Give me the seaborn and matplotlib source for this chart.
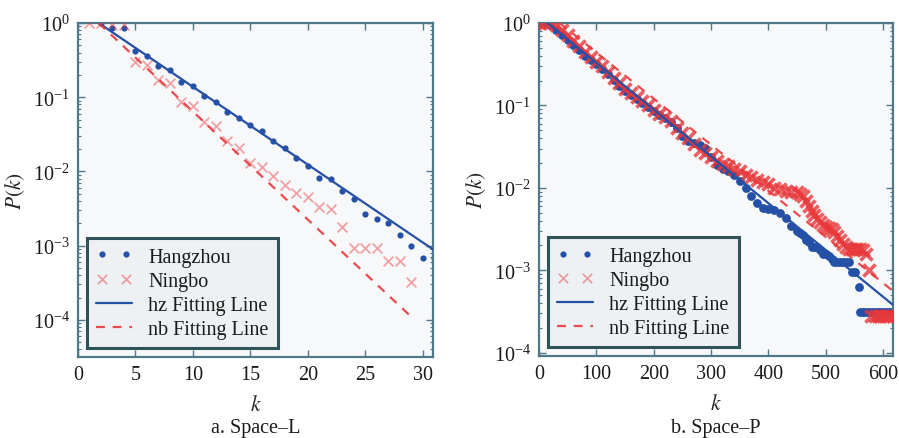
import numpy as np
import pandas as pd
import matplotlib
matplotlib.use("Agg")
import matplotlib.pyplot as plt
from matplotlib.ticker import NullLocator, LogLocator
import seaborn as sns

# ---------------- Panel a: Space-L ----------------
hz_L_k = list(range(2, 32))
hz_L_p = [1.0, 0.86, 0.86, 0.42, 0.36, 0.26, 0.23, 0.16, 0.14, 0.104,
          0.086, 0.063, 0.052, 0.042, 0.035, 0.026, 0.021, 0.015, 0.012, 0.0081,
          0.0079, 0.0055, 0.0043, 0.0027, 0.0023, 0.0020, 0.00138, 0.0010, 0.00068, 0.00068]
nb_L_k = list(range(1, 30))
nb_L_p = [1.0, 1.0, 0.93, 0.93, 0.295, 0.27, 0.17, 0.155, 0.087, 0.076,
          0.047, 0.041, 0.026, 0.021, 0.0129, 0.0115, 0.0087, 0.0066, 0.0052, 0.0045,
          0.0033, 0.0031, 0.0018, 0.00093, 0.00093, 0.00093, 0.00062, 0.00062, 0.00032]
hz_fit_L_k = [1.8, 31.0]
hz_fit_L_p = [1.0, 0.00087]
nb_fit_L_k = [1.8, 28.8]
nb_fit_L_p = [1.0, 0.000118]

# ---------------- Panel b: Space-P ----------------
hz_P_k = [0, 10, 20, 30, 40, 50, 60, 70, 80, 90, 100, 110, 120, 130, 140, 150, 160, 170, 180, 190,
          200, 210, 220, 230, 240, 250, 260, 270, 280, 290, 300, 310, 320, 330, 340, 350, 360, 370, 380, 390,
          400, 410, 420, 430, 440, 450, 455, 460, 465, 470, 475, 480, 485, 490, 495, 500, 505, 510,
          515, 520, 525, 530, 535, 540, 545, 550, 557,
          560, 565, 570, 575, 580, 585, 590, 595, 600, 605, 610, 615]
hz_P_p = [1.0, 1.0, 0.933, 0.813, 0.708, 0.617, 0.537, 0.468, 0.398, 0.355, 0.316, 0.275, 0.240, 0.204,
          0.174, 0.151, 0.135, 0.120, 0.107, 0.0955,
          0.0851, 0.0776, 0.0708, 0.0631, 0.0525, 0.0427, 0.0372, 0.0347, 0.0331, 0.0302, 0.0240, 0.0191,
          0.0170, 0.0158, 0.0145, 0.0120, 0.0100, 0.00794, 0.00661, 0.00575,
          0.00550, 0.00537, 0.00490, 0.00427, 0.00347, 0.00302, 0.00282, 0.00269, 0.00234, 0.00219,
          0.00191, 0.00191, 0.00191, 0.00174, 0.00158, 0.00158, 0.00151, 0.00138,
          0.00126, 0.00126, 0.00126, 0.00126, 0.00126, 0.00126, 0.000955, 0.000955, 0.000631,
          0.000309, 0.000309, 0.000309, 0.000309, 0.000309, 0.000309, 0.000309, 0.000309,
          0.000309, 0.000309, 0.000309, 0.000309]
nb_P_k = [0, 10, 20, 30, 40, 50, 60, 70, 80, 90, 100, 110, 120, 130, 140, 150, 160, 170, 180, 190,
          200, 210, 220, 230, 240, 250, 260, 270, 280, 290, 300, 310, 320, 330, 340, 350, 360, 370, 380, 390,
          400, 410, 420, 430, 440, 450, 455, 460, 465, 470, 475, 480, 485, 490, 495, 500, 505, 510,
          515, 520, 525, 530, 535, 540, 545, 550, 555, 560, 565, 570, 575,
          578, 585, 590, 595, 600, 605, 610, 617]
nb_P_p = [1.0, 1.0, 1.0, 0.955, 0.832, 0.708, 0.603, 0.525, 0.447, 0.389, 0.339, 0.302, 0.257, 0.214,
          0.186, 0.158, 0.141, 0.126, 0.112, 0.100,
          0.0891, 0.0794, 0.0724, 0.0646, 0.0537, 0.0457, 0.0398, 0.0339, 0.0288, 0.0263, 0.0240, 0.0214,
          0.0195, 0.0182, 0.0170, 0.0158, 0.0145, 0.0135, 0.0126, 0.0117,
          0.0110, 0.0100, 0.00955, 0.00912, 0.00891, 0.00891, 0.00851, 0.00794, 0.00692, 0.00603,
          0.00525, 0.00468, 0.00417, 0.00380, 0.00355, 0.00339, 0.00324, 0.00316,
          0.00288, 0.00263, 0.00234, 0.00209, 0.00191, 0.00182, 0.00182, 0.00182, 0.00182, 0.00182,
          0.00174, 0.00158, 0.00100,
          0.000282, 0.000282, 0.000282, 0.000282, 0.000282, 0.000282, 0.000282, 0.000282]
hz_fit_P_k = [15, 617]
hz_fit_P_p = [1.0, 0.00038]
nb_fit_P_k = [36, 617]
nb_fit_P_p = [1.0, 0.00056]

labels = ["Hangzhou", "Ningbo", "hz Fitting Line", "nb Fitting Line"]
captions = ["a. Space\u2013L", "b. Space\u2013P"]

BLUE = "#2450a6"
RED = "#e8383b"
SPINE = "#4f7888"
FACE = "#f7f8f9"

sns.set_style("ticks")
plt.rcParams['font.family'] = ['Liberation Serif', 'DejaVu Serif']
plt.rcParams['mathtext.fontset'] = 'stix'
plt.rcParams['text.color'] = '#1a1a1a'
FS = 14.5

fig = plt.figure(figsize=(8.99, 4.39), dpi=100)
axL = fig.add_axes([78 / 899, 1 - 358 / 439, 355 / 899, 334 / 439])
axR = fig.add_axes([539 / 899, 1 - 357 / 439, 354 / 899, 333 / 439])


def draw(ax, hk, hp, nk, nph, hfk, hfp, nfk, nfp, s_dot, s_x, a_x, lw_x, xlim, ylim, xticks):
    ax.set_facecolor(FACE)
    ax.set_yscale('log')
    sns.scatterplot(x=hk, y=hp, ax=ax, marker='o', s=s_dot, color=BLUE, edgecolor=BLUE,
                    linewidth=0, label=labels[0], zorder=2)
    sns.scatterplot(x=nk, y=nph, ax=ax, marker='x', s=s_x, color=RED, alpha=a_x,
                    linewidth=lw_x, label=labels[1], zorder=3)
    sns.lineplot(x=hfk, y=hfp, ax=ax, color=BLUE, linewidth=1.6, label=labels[2], zorder=4)
    sns.lineplot(x=nfk, y=nfp, ax=ax, color=RED, linewidth=1.6, linestyle=(0, (4, 3.5)),
                 label=labels[3], zorder=4, alpha=0.9)
    ax.set_xlim(*xlim)
    ax.set_ylim(*ylim)
    ax.set_xticks(xticks)
    ax.yaxis.set_major_locator(LogLocator(base=10, numticks=10))
    ax.yaxis.set_minor_locator(LogLocator(base=10, subs=np.arange(2, 10), numticks=20))
    ax.xaxis.set_minor_locator(NullLocator())
    ax.tick_params(which='both', direction='in', top=True, right=True, color=SPINE,
                   labelsize=FS, labelcolor='#1a1a1a')
    ax.tick_params(which='major', length=5, width=1.0, pad=6)
    ax.tick_params(which='minor', length=2.5, width=0.8)
    for sp in ax.spines.values():
        sp.set_color(SPINE)
        sp.set_linewidth(1.6)
    ax.set_xlabel('$k$', fontsize=FS + 1, labelpad=8)
    ax.set_ylabel('$P(k)$', fontsize=FS + 1, labelpad=4)
    h, l = ax.get_legend_handles_labels()
    order = [l.index(x) for x in labels]
    leg = ax.legend([h[i] for i in order], [l[i] for i in order], loc='lower left',
                    bbox_to_anchor=(0.025, 0.027), borderaxespad=0, scatterpoints=2,
                    scatteryoffsets=[0.5], fontsize=FS, handlelength=1.8, labelspacing=0.25,
                    handletextpad=0.8, borderpad=0.45, fancybox=False, framealpha=1,
                    facecolor='#eef1f3', edgecolor='#2e5359')
    leg.get_frame().set_linewidth(2.2)
    hh = leg.legend_handles
    hh[0].set_sizes([20])
    hh[1].set_sizes([45])
    hh[1].set_linewidths([1.3])
    hh[1].set_alpha(0.45)


draw(axL, hz_L_k, hz_L_p, nb_L_k, nb_L_p, hz_fit_L_k, hz_fit_L_p, nb_fit_L_k, nb_fit_L_p,
     s_dot=20, s_x=50, a_x=0.45, lw_x=1.3, xlim=(0, 30.9), ylim=(10 ** -4.5, 1.0),
     xticks=[0, 5, 10, 15, 20, 25, 30])
draw(axR, hz_P_k, hz_P_p, nb_P_k, nb_P_p, hz_fit_P_k, hz_fit_P_p, nb_fit_P_k, nb_fit_P_p,
     s_dot=40, s_x=75, a_x=0.8, lw_x=2.6, xlim=(0, 617), ylim=(10 ** -4.04, 1.0),
     xticks=[0, 100, 200, 300, 400, 500, 600])

fig.text(256 / 899, 1 - 429 / 439, captions[0], ha='center', va='center', fontsize=FS)
fig.text(716 / 899, 1 - 429 / 439, captions[1], ha='center', va='center', fontsize=FS)

fig.savefig("out.png", dpi=100, facecolor='white')
